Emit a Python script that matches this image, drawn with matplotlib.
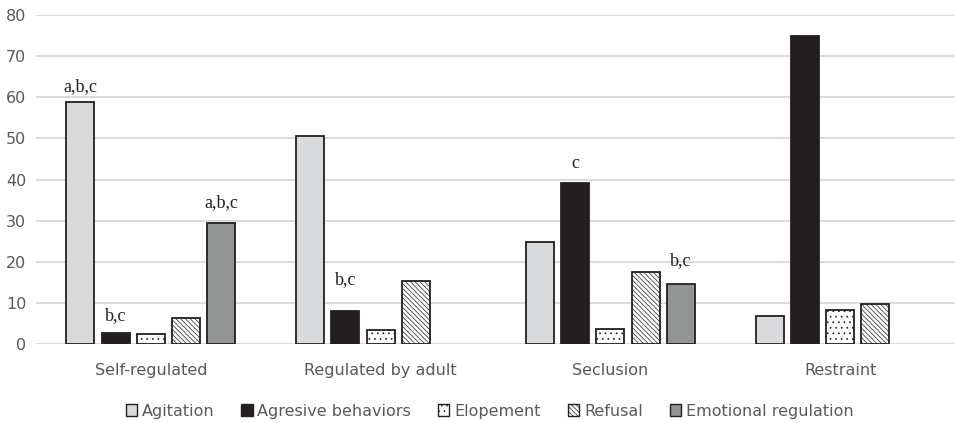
import matplotlib
matplotlib.use("Agg")
import matplotlib.pyplot as plt
import numpy as np
from matplotlib.patches import Patch

categories = ["Self-regulated", "Regulated by adult", "Seclusion", "Restraint"]
series = ["Agitation", "Agresive behaviors", "Elopement", "Refusal", "Emotional regulation"]
agitation = [58.9, 50.6, 24.7, 6.7]
aggressive = [2.7, 7.9, 39.1, 75.0]
elopement = [2.4, 3.3, 3.7, 8.2]
refusal = [6.4, 15.3, 17.4, 9.8]
emotional = [29.4, 0, 14.6, 0]
yticks = [0, 10, 20, 30, 40, 50, 60, 70, 80]
# annotations: (category index, series index, text, baseline y)
annotations = [
    (0, 0, "a,b,c", 61.6),
    (0, 1, "b,c", 5.8),
    (0, 4, "a,b,c", 33.4),
    (1, 1, "b,c", 14.6),
    (2, 1, "c", 42.9),
    (2, 4, "b,c", 19.2),
]

plt.rcParams["font.family"] = ["DejaVu Sans"]
plt.rcParams["hatch.linewidth"] = 0.5

fig = plt.figure(figsize=(9.55, 4.23), dpi=100)
ax = fig.add_axes([0.0377, 0.1868, 0.9623, 0.7777])

values = [agitation, aggressive, elopement, refusal, emotional]
faces = ["#d9dadb", "#231f20", "white", "white", "#939494"]
hatches = [None, None, "...", "\\\\\\\\\\\\\\", None]
edge = "#231f20"
x = np.arange(len(categories))
pitch = 0.1535
bw = 0.122
for i, (vals, fc, h) in enumerate(zip(values, faces, hatches)):
    pos = x + (i - 2) * pitch
    for p, v in zip(pos, vals):
        if v > 0:
            ax.bar(p, v, width=bw, color=fc, edgecolor=edge, linewidth=1.3,
                   hatch=h, zorder=3)

for ci, si, txt, yv in annotations:
    ax.text(x[ci] + (si - 2) * pitch, yv, txt, ha="center", va="baseline",
            fontsize=13, family="Liberation Serif", color="#231f20", zorder=4)

ax.set_xlim(-0.5, len(categories) - 0.5)
ax.set_ylim(0, 80)
ax.set_yticks(yticks)
ax.set_yticklabels([str(t) for t in yticks], fontsize=11.5, color="#595959")
ax.set_xticks(x)
ax.set_xticklabels(categories, fontsize=11.5, color="#595959")
ax.tick_params(length=0)
ax.tick_params(axis="y", pad=7)
ax.tick_params(axis="x", pad=14)
ax.yaxis.grid(True, color="#d9d9d9", linewidth=1.3, zorder=0)
for s in ax.spines.values():
    s.set_visible(False)

handles = [Patch(facecolor=fc, edgecolor=edge, hatch=h, linewidth=1.0)
           for fc, h in zip(faces, hatches)]
leg = fig.legend(handles, series, loc="center", bbox_to_anchor=(0.5126, 0.028),
                 ncol=5, frameon=False, fontsize=11.5, handlelength=0.7,
                 handleheight=0.7, handletextpad=0.3, columnspacing=1.7)
for t in leg.get_texts():
    t.set_color("#595959")

fig.savefig("out.png", dpi=100)
